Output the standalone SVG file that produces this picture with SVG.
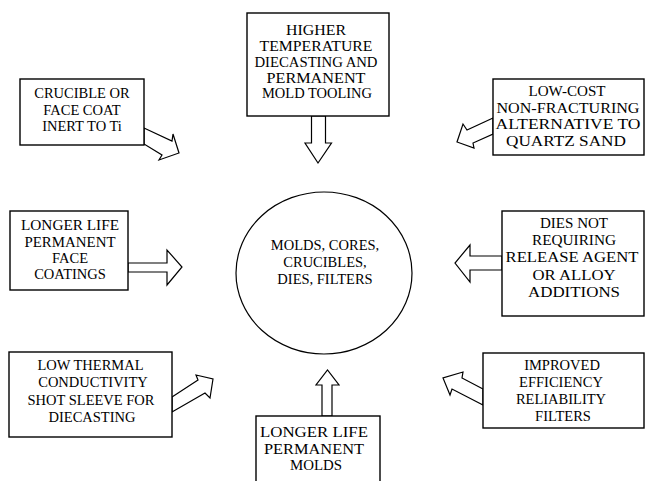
<svg xmlns="http://www.w3.org/2000/svg" width="645" height="481" viewBox="0 0 645 481">
<style>
  .box { fill: #fff; stroke: #000; stroke-width: 1.4; }
  .ell { fill: #fff; stroke: #000; stroke-width: 1.2; }
  .arr { fill: #fff; stroke: #000; stroke-width: 1.2; stroke-linejoin: miter; }
  text { font-family: "Times New Roman", "Liberation Serif", "DejaVu Serif", "Noto Serif", Times, serif; font-size: 14.5px; fill: #000; text-anchor: middle; }
</style>
<rect width="645" height="481" fill="#fff"/>
<g id="connectors">
  <polygon class="arr" points="144,128 172,141 173,134 179,153 159,160 162,155 144,144"/>
  <polygon class="arr" points="311.5,116 311.5,143 305,143 318,163 331.5,143 325.5,143 325.5,116"/>
  <polygon class="arr" points="493,118 467,130 463,124 457,142 474,148 473,143 493,134"/>
  <polygon class="arr" points="128,263 167,263 167,250 182,267 167,285 167,272 128,272"/>
  <polygon class="arr" points="502,256 470,256 470,245 455,263 470,282 470,270 502,270"/>
  <polygon class="arr" points="172,397 198,380 196,375 213,379 210,398 205,393 172,412"/>
  <polygon class="arr" points="322,416 322,385 316,385 327.5,370 339,385 332,385 332,416"/>
  <polygon class="arr" points="483,389 462,378 463,372 443,378 450,395 452,389 483,405"/>
</g>
<g id="center">
  <ellipse class="ell" cx="324" cy="273" rx="88" ry="81"/>
  <text x="325" y="250">MOLDS, CORES,</text>
  <text x="325" y="267">CRUCIBLES,</text>
  <text x="325" y="284">DIES, FILTERS</text>
</g>
<g id="n-crucible">
  <rect class="box" x="20" y="79" width="124" height="66"/>
  <text x="82" y="98">CRUCIBLE OR</text>
  <text x="82" y="114.5">FACE COAT</text>
  <text x="82" y="131">INERT TO Ti</text>
</g>
<g id="n-higher">
  <rect class="box" x="247" y="13" width="142" height="103"/>
  <text x="316" y="35" textLength="60" lengthAdjust="spacingAndGlyphs">HIGHER</text>
  <text x="316" y="51" textLength="113" lengthAdjust="spacingAndGlyphs">TEMPERATURE</text>
  <text x="316" y="67" textLength="123" lengthAdjust="spacingAndGlyphs">DIECASTING AND</text>
  <text x="316" y="82.5" textLength="99" lengthAdjust="spacingAndGlyphs">PERMANENT</text>
  <text x="317" y="98" textLength="110" lengthAdjust="spacingAndGlyphs">MOLD TOOLING</text>
</g>
<g id="n-lowcost">
  <rect class="box" x="493" y="79" width="151" height="76"/>
  <text x="567" y="96" textLength="77" lengthAdjust="spacingAndGlyphs">LOW-COST</text>
  <text x="568" y="112.5" textLength="143" lengthAdjust="spacingAndGlyphs">NON-FRACTURING</text>
  <text x="568" y="129" textLength="145" lengthAdjust="spacingAndGlyphs">ALTERNATIVE TO</text>
  <text x="566" y="145.5" textLength="120" lengthAdjust="spacingAndGlyphs">QUARTZ SAND</text>
</g>
<g id="n-facecoat">
  <rect class="box" x="10" y="211" width="118" height="79"/>
  <text x="70" y="230" textLength="98" lengthAdjust="spacingAndGlyphs">LONGER LIFE</text>
  <text x="70" y="246.5" textLength="91" lengthAdjust="spacingAndGlyphs">PERMANENT</text>
  <text x="70" y="263">FACE</text>
  <text x="70" y="279">COATINGS</text>
</g>
<g id="n-dies">
  <rect class="box" x="502" y="211" width="142" height="105"/>
  <text x="574" y="227.5" textLength="68" lengthAdjust="spacingAndGlyphs">DIES NOT</text>
  <text x="574" y="245" textLength="84" lengthAdjust="spacingAndGlyphs">REQUIRING</text>
  <text x="572" y="262" textLength="133" lengthAdjust="spacingAndGlyphs">RELEASE AGENT</text>
  <text x="574" y="279.5" textLength="83" lengthAdjust="spacingAndGlyphs">OR ALLOY</text>
  <text x="574" y="296.5" textLength="92" lengthAdjust="spacingAndGlyphs">ADDITIONS</text>
</g>
<g id="n-shotsleeve">
  <rect class="box" x="9" y="352" width="163" height="85"/>
  <text x="90.5" y="370">LOW THERMAL</text>
  <text x="93" y="387">CONDUCTIVITY</text>
  <text x="91" y="404.5">SHOT SLEEVE FOR</text>
  <text x="92" y="421.5">DIECASTING</text>
</g>
<g id="n-molds">
  <rect class="box" x="256" y="416" width="124" height="80"/>
  <text x="314" y="437" textLength="108" lengthAdjust="spacingAndGlyphs">LONGER LIFE</text>
  <text x="314" y="454" textLength="100" lengthAdjust="spacingAndGlyphs">PERMANENT</text>
  <text x="316" y="470" textLength="52" lengthAdjust="spacingAndGlyphs">MOLDS</text>
</g>
<g id="n-filters">
  <rect class="box" x="483" y="353" width="161" height="75"/>
  <text x="562" y="370">IMPROVED</text>
  <text x="561" y="387">EFFICIENCY</text>
  <text x="561" y="404">RELIABILITY</text>
  <text x="563" y="420.5">FILTERS</text>
</g>
</svg>
